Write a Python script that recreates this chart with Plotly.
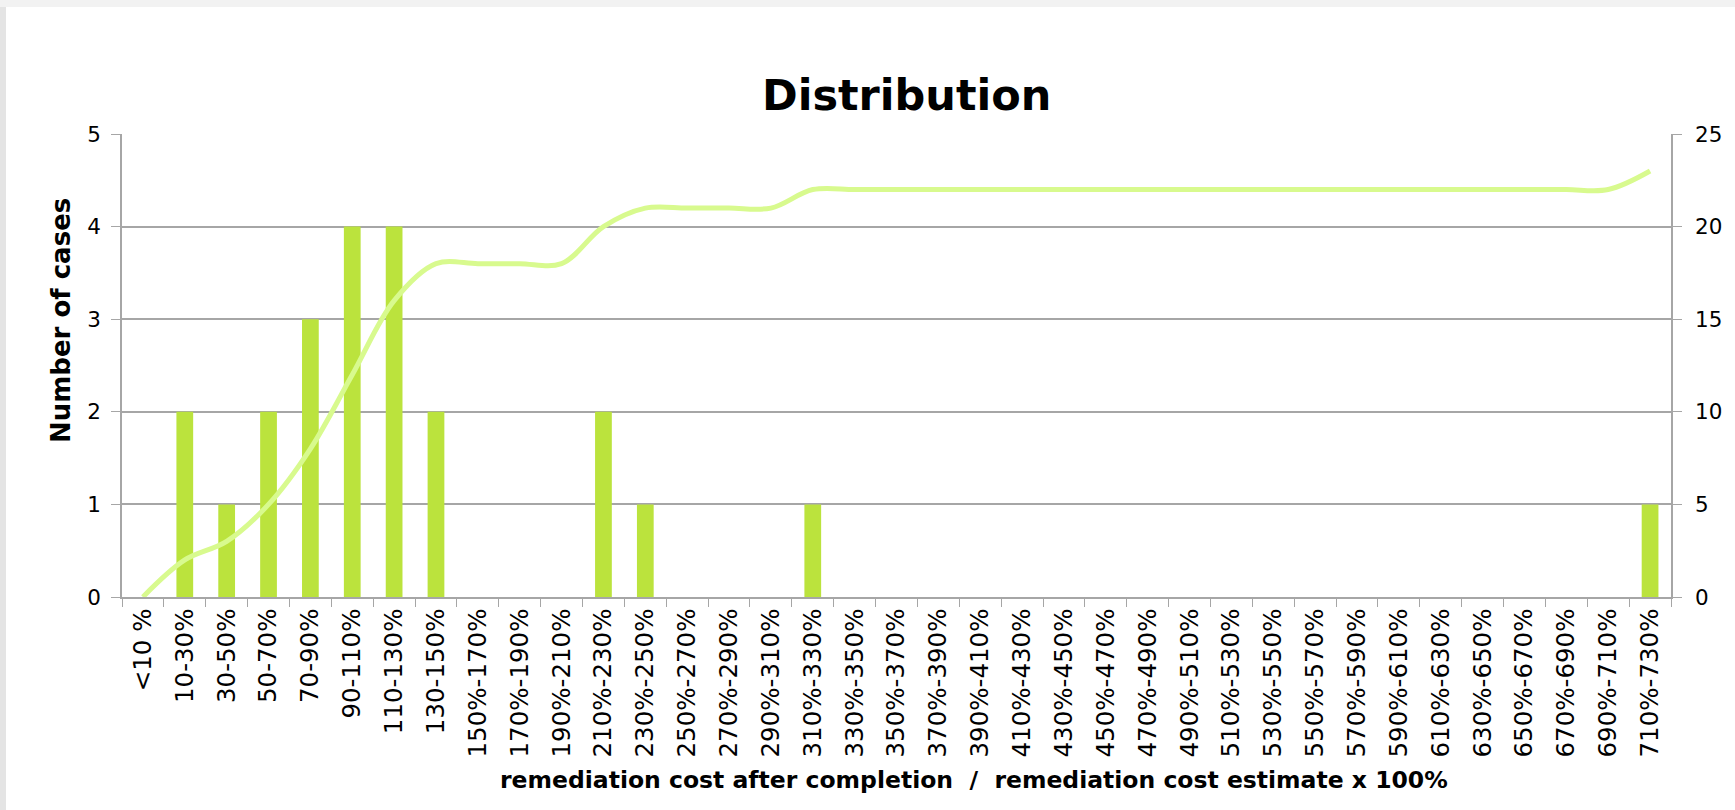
import plotly.graph_objects as go

categories = ["<10 %", "10-30%", "30-50%", "50-70%", "70-90%", "90-110%", "110-130%", "130-150%",
              "150%-170%", "170%-190%", "190%-210%", "210%-230%", "230%-250%", "250%-270%",
              "270%-290%", "290%-310%", "310%-330%", "330%-350%", "350%-370%", "370%-390%",
              "390%-410%", "410%-430%", "430%-450%", "450%-470%", "470%-490%", "490%-510%",
              "510%-530%", "530%-550%", "550%-570%", "570%-590%", "590%-610%", "610%-630%",
              "630%-650%", "650%-670%", "670%-690%", "690%-710%", "710%-730%"]

cases = [0, 2, 1, 2, 3, 4, 4, 2,
         0, 0, 0, 2, 1, 0,
         0, 0, 1, 0, 0, 0,
         0, 0, 0, 0, 0, 0,
         0, 0, 0, 0, 0, 0,
         0, 0, 0, 0, 1]

cumulative = [0, 2, 3, 5, 8, 12, 16, 18,
              18, 18, 18, 20, 21, 21,
              21, 21, 22, 22, 22, 22,
              22, 22, 22, 22, 22, 22,
              22, 22, 22, 22, 22, 22,
              22, 22, 22, 22, 23]

left_ticks = [0, 1, 2, 3, 4, 5]
right_ticks = [0, 5, 10, 15, 20, 25]

FONT = "DejaVu Sans"
GRID = "#a6a6a6"

fig = go.Figure()
fig.add_trace(go.Bar(x=categories, y=cases, width=0.4, marker=dict(color="#bbe33d", line=dict(width=0)),
                     yaxis="y", showlegend=False))
fig.add_trace(go.Scatter(x=categories, y=cumulative, mode="lines", yaxis="y2", showlegend=False,
                         line=dict(color="#d8fa8e", width=5, shape="spline", smoothing=1)))

W, H = 1735, 810
L, R, T, B = 122, 1671, 134, 597
pw, ph = R - L, B - T

def px(x):
    return (x - L) / pw

def py(y):
    return (B - y) / ph

fig.update_layout(
    width=W, height=H,
    margin=dict(l=L, r=W - R, t=T, b=H - B, autoexpand=False),
    paper_bgcolor="white", plot_bgcolor="white",
    font=dict(family=FONT, color="black", size=22),
    xaxis=dict(type="category", tickson="boundaries", ticks="outside", ticklen=8, tickcolor=GRID,
               showline=True, linecolor=GRID, linewidth=1.5, tickangle=-90, showgrid=False,
               tickfont=dict(size=24.5, family=FONT), range=[-0.5, len(categories) - 0.5]),
    yaxis=dict(range=[0, 5], tickvals=left_ticks, ticks="outside", ticklen=9, tickcolor=GRID,
               showline=True, linecolor=GRID, linewidth=1.5, showgrid=True, gridcolor=GRID, gridwidth=1.5,
               zeroline=False, tickfont=dict(size=21.5, family=FONT), ticklabelstandoff=6),
    yaxis2=dict(range=[0, 25], tickvals=right_ticks, overlaying="y", side="right", ticks="outside",
                ticklen=9, tickcolor=GRID, showline=True, linecolor=GRID, linewidth=1.5,
                showgrid=False, zeroline=False, tickfont=dict(size=21.5, family=FONT), ticklabelstandoff=9),
    shapes=[
        dict(type="rect", xref="paper", yref="paper", x0=px(0), x1=px(6), y0=py(H), y1=py(0),
             fillcolor="#e4e4e4", line=dict(width=0), layer="below"),
        dict(type="rect", xref="paper", yref="paper", x0=px(0), x1=px(W), y0=py(7), y1=py(0),
             fillcolor="#f2f2f2", line=dict(width=0), layer="below"),
    ],
    annotations=[
        dict(text="<b>Distribution</b>", xref="paper", yref="paper", x=px(906), y=py(95),
             showarrow=False, font=dict(size=43, family=FONT), xanchor="center", yanchor="middle"),
        dict(text="<b>Number of cases</b>", xref="paper", yref="paper", x=px(61), y=py(321),
             showarrow=False, textangle=-90, font=dict(size=26, family=FONT),
             xanchor="center", yanchor="middle"),
        dict(text="<b>remediation cost after completion  /  remediation cost estimate x 100%</b>",
             xref="paper", yref="paper", x=px(974), y=py(780), showarrow=False,
             font=dict(size=23.5, family=FONT), xanchor="center", yanchor="middle"),
    ],
)

fig.write_html("out.html", config={"displayModeBar": False},
               post_script="document.body.style.margin='0';document.body.style.overflow='hidden';")
